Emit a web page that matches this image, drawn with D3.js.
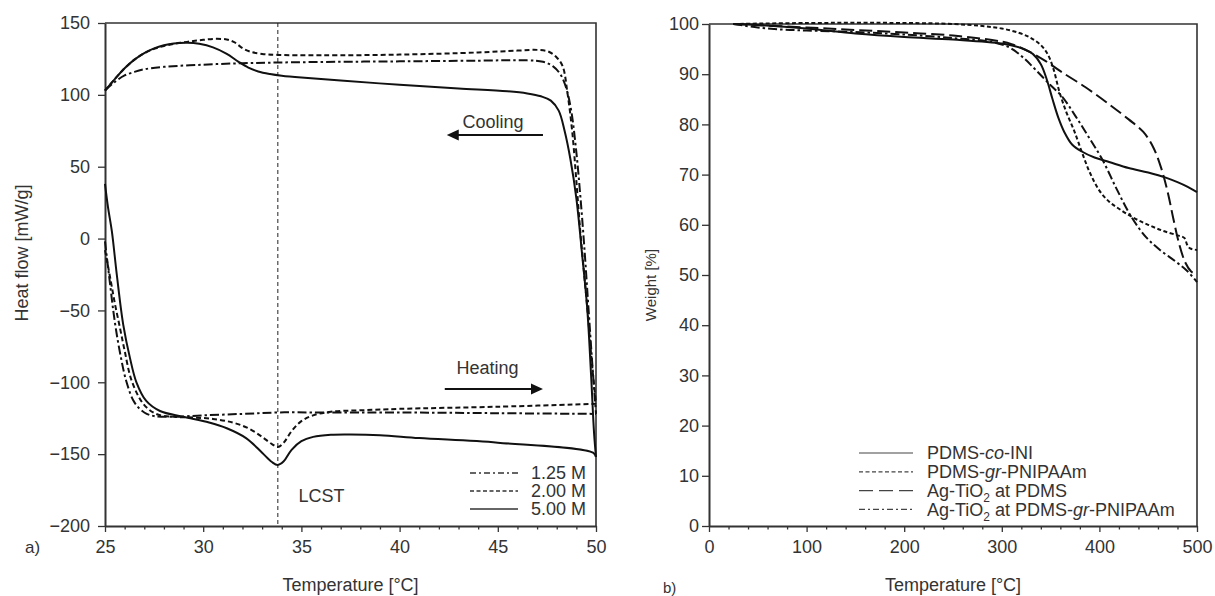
<!DOCTYPE html>
<html>
<head>
<meta charset="utf-8">
<script src="https://cdn.jsdelivr.net/npm/d3@7"></script>
<style>
  body { margin: 0; background: #fff; }
  svg text { font-family: "Liberation Sans", Arial, Helvetica, sans-serif; font-size: 18px; fill: #333; }
</style>
</head>
<body>
<svg id="chart" width="1215" height="596"></svg>
<script>
// ---- panel a) DSC, heat flow vs temperature ----
const dscXTicks = [25, 30, 35, 40, 45, 50];
const dscXMinor = d3.range(25, 51).filter(t => t % 5 !== 0);
const dscYTicks = [150, 100, 50, 0, -50, -100, -150, -200];
const dscLabels = ['1.25 M', '2.00 M', '5.00 M'];
const lcstTemp = 33.8;

// heating runs (25 -> 50)
const heat125 = [[25,-2],[25.2,-25],[25.5,-58],[25.8,-82],[26.1,-100],[26.5,-114],[27,-121],[27.5,-123.5],[28.5,-124],[30,-123],[32,-122],[33.8,-121],[36,-121],[40,-121],[45,-121.5],[50,-122]];
const heat200 = [[25,-8],[25.3,-30],[25.5,-45],[25.76,-62],[26,-78],[26.36,-99],[26.95,-115],[27.6,-122],[28.5,-124],[29.5,-124.5],[30.5,-125.5],[31.5,-128],[32.3,-132],[33,-138],[33.5,-143],[33.8,-145],[34.1,-142],[34.5,-134],[35,-127],[35.6,-123],[36.5,-120.5],[38,-119.5],[40,-118.5],[45,-117],[50,-115]];
const heat500 = [[25,38],[25.15,22],[25.35,5],[25.6,-25],[25.93,-60],[26.27,-83],[26.6,-100],[27.1,-113],[27.8,-120],[29,-124],[30.3,-128],[31.2,-132],[32.2,-139],[33,-149],[33.5,-155.5],[33.8,-157.5],[34.1,-155],[34.5,-147],[35,-141],[35.6,-138],[36.5,-136.5],[37.5,-136.3],[39,-136.8],[41,-138.8],[45,-142],[49.85,-149],[50,-152]];

// cooling runs (listed 25 -> 50, measured 50 -> 25)
const cool125 = [[25,103],[25.5,109],[26,113.5],[26.5,116],[27,117.8],[28,119.5],[30,121],[32,122],[33.8,122.5],[37,123],[40,123.3],[44,123.8],[46.5,124],[47.3,123],[47.8,120],[48.2,114],[48.5,104],[48.75,88],[49.0,60],[49.2,30],[49.4,-5],[49.6,-45],[49.8,-85],[50,-122]];
const cool200 = [[25,103],[25.5,111],[26,118.5],[26.5,124.5],[27,129],[27.5,132],[28,134],[28.5,135.5],[29,136.5],[29.5,137.5],[30,138.3],[30.6,139],[31.2,138.5],[31.6,136.5],[32,132.5],[32.4,130],[33,128.5],[33.8,127.8],[36,127.5],[40,128],[44,129.5],[46,130.8],[47,131.3],[47.6,130],[48,126],[48.3,120],[48.55,101],[48.8,73],[49.0,40],[49.2,5],[49.4,-25],[49.6,-55],[49.8,-88],[50,-115]];
const cool500 = [[25,103],[25.5,111],[26,118.5],[26.5,124.5],[27,129],[27.5,132.3],[28,134.5],[28.5,135.8],[29.2,136.3],[29.8,135.5],[30.5,133],[31.2,128.5],[31.8,123],[32.3,119],[32.8,116.3],[33.4,114.5],[34,113.3],[35,112],[37,110],[40,107],[43,104.5],[45.5,102.5],[46.5,101],[47.2,99],[47.7,96],[48.1,89],[48.4,75],[48.7,55],[49.0,28],[49.3,-12],[49.55,-48],[49.75,-95],[49.9,-135],[50,-152]];

// ---- panel b) TGA, weight vs temperature ----
const tgaXTicks = [0, 100, 200, 300, 400, 500];
const tgaXMinor = d3.range(0, 501, 20).filter(t => t % 100 !== 0);
const tgaYTicks = d3.range(0, 101, 10);

const tgaCoIni = [[25,100],[50,99.8],[100,99.1],[150,98.1],[200,97.4],[250,96.9],[300,96.1],[320,95.2],[332,94],[340,92],[346,89],[352,85],[358,81.3],[364,78.5],[372,76],[382,74.6],[395,73.4],[410,72.5],[430,71.3],[450,70.4],[468,69.4],[480,68.5],[490,67.6],[500,66.5]];
const tgaGrPnipaam = [[25,100],[100,100.2],[200,100.2],[250,100],[280,99.6],[300,99.1],[318,98.2],[330,97.2],[340,95.8],[347,94],[353,91],[359,86.5],[366,82.5],[374,78.8],[382,74.5],[390,70.5],[400,66.8],[410,64.6],[420,63.2],[435,61.4],[450,60],[465,58.8],[480,57.9],[487,57.4],[490,56],[493,55.3],[500,55]];
const tgaAgPdms = [[25,100],[100,99.3],[150,98.8],[200,98.3],[250,97.7],[290,96.8],[310,96],[330,94.3],[345,92.6],[360,90.6],[385,87.5],[410,84],[430,81],[445,78.5],[455,75.5],[463,71.5],[470,66.5],[476,61],[482,56],[488,52.5],[494,50.7],[500,50]];
const tgaAgGr = [[25,100],[50,99.3],[75,98.9],[100,98.7],[150,98.4],[200,97.9],[250,97.2],[290,96.4],[308,95.3],[322,93.3],[335,90.8],[350,87.8],[362,85.5],[375,81.8],[388,77.8],[403,73],[418,67],[433,61.5],[448,57.5],[462,55],[478,52.7],[490,50.8],[500,48.6]];

// label pieces: [text, style]
const tgaLabels = [
  [['PDMS-'], ['co', 'it'], ['-INI']],
  [['PDMS-'], ['gr', 'it'], ['-PNIPAAm']],
  [['Ag-TiO'], ['2', 'sub'], [' at PDMS']],
  [['Ag-TiO'], ['2', 'sub'], [' at PDMS-'], ['gr', 'it'], ['-PNIPAAm']]
];

const svg = d3.select('#chart');
const INK = '#333';

const xA = d3.scaleLinear().domain([25, 50]).range([105, 596]);
const yA = d3.scaleLinear().domain([-200, 150]).range([526, 23]);
const xB = d3.scaleLinear().domain([0, 500]).range([709, 1197]);
const yB = d3.scaleLinear().domain([0, 100]).range([526, 24]);

function lineGen(x, y) {
    return d3.line()
        .x(d => x(d[0]))
        .y(d => y(d[1]))
        .curve(d3.curveCatmullRom.alpha(0.5));
}

function cleanAxis(g) {
    g.attr('font-size', null).attr('font-family', null);
    g.selectAll('line').attr('stroke', INK).attr('stroke-width', 1.3);
    g.select('.domain').attr('stroke', INK).attr('stroke-width', 2);
}

function drawAxes(x, y, xTicks, xMinor, yTicks, yPad) {
    const [x0, x1] = x.range();
    const [y0, y1] = y.range();

    // top and right frame
    svg.append('path')
        .attr('d', `M${x0},${y1}H${x1}V${y0}`)
        .attr('fill', 'none')
        .attr('stroke', INK)
        .attr('stroke-width', 1.6);

    svg.append('g')
        .attr('transform', `translate(0,${y0})`)
        .call(d3.axisBottom(x).tickValues(xMinor).tickSize(3.5).tickFormat(''))
        .call(g => { cleanAxis(g); g.select('.domain').remove(); });

    svg.append('g')
        .attr('transform', `translate(0,${y0})`)
        .call(d3.axisBottom(x).tickValues(xTicks).tickSize(6).tickSizeOuter(0).tickPadding(8))
        .call(cleanAxis);

    svg.append('g')
        .attr('transform', `translate(${x0},0)`)
        .call(d3.axisLeft(y).tickValues(yTicks).tickSize(7).tickSizeOuter(0).tickPadding(yPad))
        .call(cleanAxis);
}

function drawSeries(x, y, data, dash) {
    svg.append('path')
        .datum(data)
        .attr('d', lineGen(x, y))
        .attr('fill', 'none')
        .attr('stroke', '#111')
        .attr('stroke-width', 2)
        .attr('stroke-dasharray', dash);
}

function arrow(x1, x2, yy) {
    const dir = Math.sign(x2 - x1);
    svg.append('line')
        .attr('x1', x1).attr('x2', x2 - dir * 8)
        .attr('y1', yy).attr('y2', yy)
        .attr('stroke', '#111').attr('stroke-width', 2);
    svg.append('path')
        .attr('d', `M${x2},${yy}L${x2 - dir * 12},${yy - 5.5}L${x2 - dir * 12},${yy + 5.5}Z`)
        .attr('fill', '#111');
}

// ===== panel a =====
drawAxes(xA, yA, dscXTicks, dscXMinor, dscYTicks, 8);

svg.append('line')
    .attr('x1', xA(lcstTemp)).attr('x2', xA(lcstTemp))
    .attr('y1', yA(150)).attr('y2', yA(-200))
    .attr('stroke', '#222').attr('stroke-width', 1)
    .attr('stroke-dasharray', '4,3');

const dscSeries = [
    { label: dscLabels[0], heat: heat125, cool: cool125, dash: '9,3,2.5,3' },
    { label: dscLabels[1], heat: heat200, cool: cool200, dash: '5,3' },
    { label: dscLabels[2], heat: heat500, cool: cool500, dash: null }
];

dscSeries.forEach(s => {
    drawSeries(xA, yA, s.heat, s.dash);
    drawSeries(xA, yA, s.cool, s.dash);
});

svg.append('text').attr('x', xA(43.2)).attr('y', yA(77)).text('Cooling');
arrow(xA(47.3), xA(42.4), yA(72));
svg.append('text').attr('x', xA(42.9)).attr('y', yA(-94.3)).text('Heating');
arrow(xA(42.3), xA(47.3), yA(-104.7));
svg.append('text').attr('x', xA(34.85)).attr('y', yA(-183)).text('LCST');

// legend a
dscSeries.forEach((s, i) => {
    const yy = 473 + i * 18;
    svg.append('line')
        .attr('x1', 470).attr('x2', 518).attr('y1', yy).attr('y2', yy)
        .attr('stroke', '#333').attr('stroke-width', 1.3)
        .attr('stroke-dasharray', s.dash ? (i === 0 ? '6,3,2,3' : '4,2.5') : null);
    svg.append('text').attr('x', 531).attr('y', yy).attr('dy', '0.35em').text(s.label);
});

svg.append('text')
    .attr('transform', 'translate(28,253) rotate(-90)')
    .attr('text-anchor', 'middle')
    .text('Heat flow [mW/g]');
svg.append('text')
    .attr('x', (xA.range()[0] + xA.range()[1]) / 2).attr('y', 591)
    .attr('text-anchor', 'middle')
    .text('Temperature [°C]');
svg.append('text').attr('x', 25).attr('y', 553).style('font-size', '17px').text('a)');

// ===== panel b =====
drawAxes(xB, yB, tgaXTicks, tgaXMinor, tgaYTicks, 3);

const tgaSeries = [
    { data: tgaCoIni, dash: null, legendDash: null },
    { data: tgaGrPnipaam, dash: '4,2.5', legendDash: '4,2.5' },
    { data: tgaAgPdms, dash: '13,5', legendDash: '14,6' },
    { data: tgaAgGr, dash: '9,3,2.5,3', legendDash: '6,3,2,3' }
];

tgaSeries.forEach(s => drawSeries(xB, yB, s.data, s.dash));

tgaSeries.forEach((s, i) => {
    const yy = 453 + i * 18.8;
    svg.append('line')
        .attr('x1', 859).attr('x2', 913).attr('y1', yy).attr('y2', yy)
        .attr('stroke', '#444').attr('stroke-width', 1.2)
        .attr('stroke-dasharray', s.legendDash);
    const t = svg.append('text').attr('x', 927).attr('y', yy).attr('dy', '0.35em');
    let shifted = false;
    tgaLabels[i].forEach(([txt, kind]) => {
        const ts = t.append('tspan').text(txt);
        if (kind === 'it') ts.style('font-style', 'italic');
        if (kind === 'sub') {
            ts.attr('dy', 5).style('font-size', '12px');
            shifted = true;
        } else if (shifted) {
            ts.attr('dy', -5);
            shifted = false;
        }
    });
});

svg.append('text')
    .attr('transform', 'translate(656,285) rotate(-90)')
    .attr('text-anchor', 'middle')
    .style('font-size', '15px')
    .text('Weight [%]');
svg.append('text')
    .attr('x', (xB.range()[0] + xB.range()[1]) / 2).attr('y', 591)
    .attr('text-anchor', 'middle')
    .text('Temperature [°C]');
svg.append('text').attr('x', 663).attr('y', 593).style('font-size', '15px').text('b)');
</script>
</body>
</html>
